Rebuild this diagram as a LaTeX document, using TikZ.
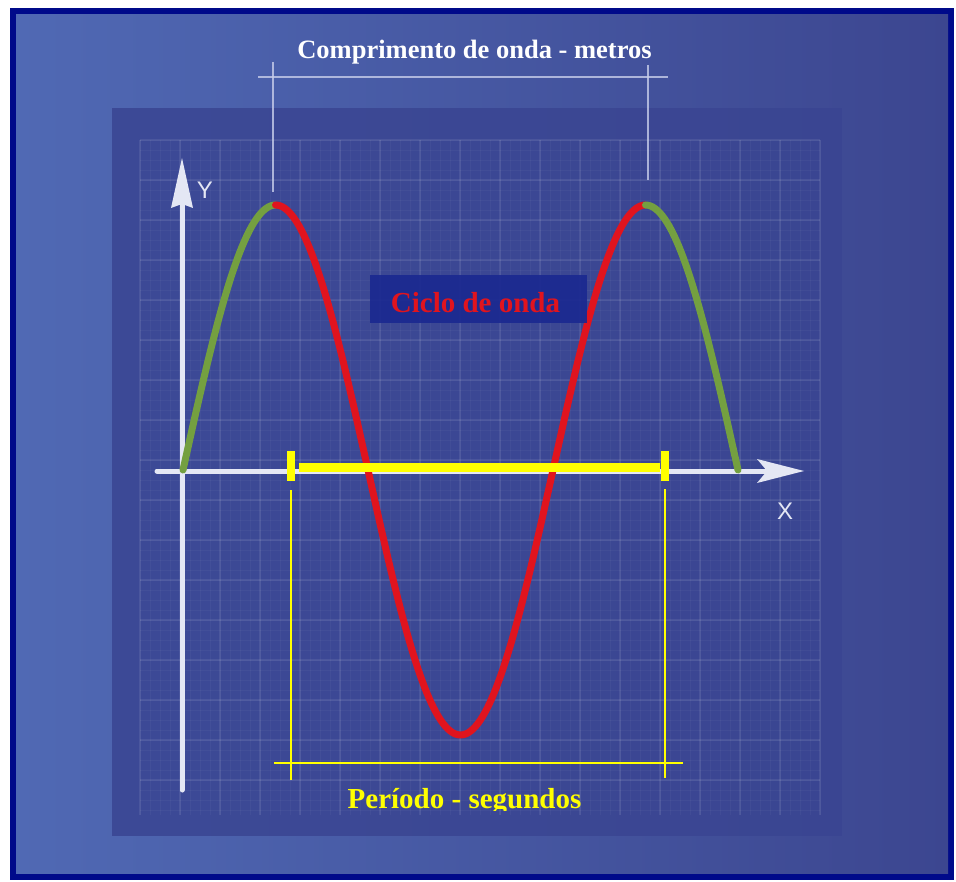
\documentclass[tikz,border=0pt]{standalone}
\usepackage{fontspec}
\setmainfont{Liberation Serif}
\setsansfont{Liberation Sans}
\definecolor{frame}{HTML}{000A8A}
\definecolor{bgleft}{HTML}{5069B4}
\definecolor{bgright}{HTML}{3C4690}
\definecolor{panel}{HTML}{3A4592}
\definecolor{axiscol}{HTML}{E4E7F4}
\definecolor{wred}{HTML}{E0141E}
\definecolor{wgreen}{HTML}{74A040}
\definecolor{yel}{HTML}{FFFF00}
\definecolor{cicbox}{HTML}{1A2890}
\definecolor{refline}{HTML}{C8CEEA}
\begin{document}
\begin{tikzpicture}[x=1pt,y=-1pt,
  gridminor/.style={draw=white, draw opacity=0.035, line width=0.8},
  gridmajor/.style={draw=white, draw opacity=0.08, line width=1.2},
  axisline/.style={draw=axiscol, line width=5, line cap=round},
  arrowhead/.style={fill=axiscol, draw=none},
  axislabel/.style={font=\sffamily\fontsize{24}{28}\selectfont, text=axiscol},
  wave/.style={line width=7, line cap=round},
  dimline/.style={draw=refline, draw opacity=0.8, line width=2},
  ydim/.style={draw=yel, line width=2},
  bigtext/.style={font=\bfseries\fontsize{#1}{32}\selectfont, inner sep=0pt, anchor=base}
]
\useasboundingbox (0,0) rectangle (956,882);
% frame and background
\fill[white] (0,0) rectangle (956,882);
\fill[frame] (10,8) rectangle (954,880);
\shade[left color=bgleft, right color=bgright] (16,15) rectangle (948,873);
% panel
\fill[panel, opacity=0.85] (112,108) rectangle (842,836);
\foreach \gx in {140,150,...,820} \draw[gridminor] (\gx,140) -- (\gx,815);
\foreach \gy in {140,150,...,810} \draw[gridminor] (140,\gy) -- (820,\gy);
\foreach \gx in {140,180,...,820} \draw[gridmajor] (\gx,140) -- (\gx,815);
\foreach \gy in {140,180,...,810} \draw[gridmajor] (140,\gy) -- (820,\gy);

% wavelength reference lines
\coordinate (wlL) at (258,77);
\coordinate (wlR) at (668,77);
\coordinate (pk1top) at (273,62);
\coordinate (pk1bot) at (273,192);
\coordinate (pk2top) at (648,65);
\coordinate (pk2bot) at (648,180);
\draw[dimline] (wlL) -- (wlR);
\draw[dimline] (pk1top) -- (pk1bot);
\draw[dimline] (pk2top) -- (pk2bot);

% axes
\coordinate (ybot) at (182,790);
\coordinate (ytop) at (182,200);
\coordinate (xleft) at (157,471);
\coordinate (xright) at (770,471);
\draw[axisline] (ybot) -- (ytop);
\draw[axisline] (xleft) -- (xright);
\fill[arrowhead] (182,158) -- (193,208) -- (182,204) -- (171,208) -- cycle;
\fill[arrowhead] (804,471) -- (757,459) -- (767,471) -- (757,483) -- cycle;
\node[axislabel] (ylab) at (205,190) {Y};
\node[axislabel] (xlab) at (785,511) {X};

% wave
\draw[wave, wgreen] plot[domain=0:90, samples=40] ({183+\x*1.027778},{470-265*sin(\x)});
\draw[wave, wred] plot[domain=90:450, samples=160] ({183+\x*1.027778},{470-265*sin(\x)});
\draw[wave, wgreen] plot[domain=450:540, samples=40] ({183+\x*1.027778},{470-265*sin(\x)});

% period marks
\coordinate (barL) at (299,467.5);
\coordinate (barR) at (660,467.5);
\draw[yel, line width=9] (barL) -- (barR);
\fill[yel] (287,451) rectangle (295,481);
\fill[yel] (661,451) rectangle (669,481);
\coordinate (pLtop) at (291,490);
\coordinate (pLbot) at (291,780);
\coordinate (pRtop) at (665,489);
\coordinate (pRbot) at (665,778);
\coordinate (phL) at (274,763);
\coordinate (phR) at (683,763);
\draw[ydim] (pLtop) -- (pLbot);
\draw[ydim] (pRtop) -- (pRbot);
\draw[ydim] (phL) -- (phR);

% texts
\node[bigtext=26.5, text=white] (title) at (474.5,59) {Comprimento de onda - metros};
\node[fill=cicbox, fill opacity=0.9, minimum width=217, minimum height=48, inner sep=0pt] (cicbg) at (478.5,299) {};
\node[bigtext=29, text=wred] (ciclo) at (475.5,313) {Ciclo de onda};
\begin{scope}
\clip (0,0) rectangle (956,810);
\node[bigtext=29, text=yel] (periodo) at (464.5,808) {Período - segundos};
\end{scope}
\end{tikzpicture}
\end{document}
